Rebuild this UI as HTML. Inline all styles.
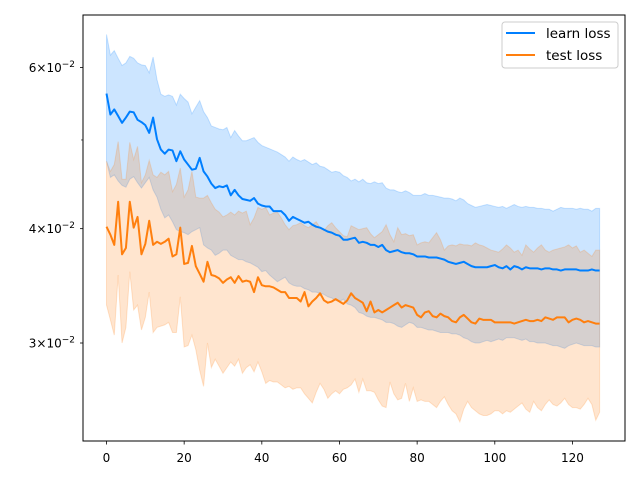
<!DOCTYPE html>
<html><head><meta charset="utf-8"><style>
html,body{margin:0;padding:0;background:#fff;}
svg{display:block;font-family:"DejaVu Sans","Liberation Sans",sans-serif;}
</style></head><body>
<svg id="chart" width="640" height="480" xmlns="http://www.w3.org/2000/svg">
<rect x="0" y="0" width="640" height="480" fill="#fff"/>
<g id="plot"></g>
<rect x="83" y="15" width="542" height="426" fill="none" stroke="#000" stroke-width="1"/>
<g id="xticks"></g>
<g id="yticks"></g>
<g>
<rect x="502" y="22" width="116" height="46" rx="3" fill="#fff" fill-opacity="0.8" stroke="#ccc"/>
<line x1="506" y1="33" x2="535" y2="33" stroke="#007fff" stroke-width="2"/>
<text x="546" y="38" font-size="13.5" fill="#000">learn loss</text>
<line x1="506" y1="55" x2="535" y2="55" stroke="#ff7f0e" stroke-width="2"/>
<text x="546" y="60" font-size="13.5" fill="#000">test loss</text>
</g>
</svg>
<script>
const learnMean=[.0562,.0533,.0540,.0531,.0522,.0529,.0537,.0536,.0526,.0523,.0519,.0509,.0529,.0501,.0488,.0483,.0488,.0487,.0474,.0486,.0476,.0470,.0464,.0465,.0478,.0462,.0456,.0448,.0443,.0445,.0444,.0446,.0435,.0441,.0435,.0431,.0430,.0429,.0432,.0426,.0424,.0423,.0423,.0418,.0418,.0418,.0414,.0408,.0412,.0410,.0408,.0406,.0407,.0404,.0402,.0401,.0399,.0397,.0396,.0394,.0393,.0389,.0389,.0390,.0391,.0386,.0387,.0386,.0384,.0384,.0382,.0384,.0379,.0377,.0378,.0379,.0377,.0376,.0376,.0375,.0373,.0373,.0373,.0372,.0372,.0372,.0371,.0370,.0368,.0367,.0366,.0367,.0368,.0366,.0364,.0363,.0363,.0363,.0363,.0364,.0365,.0363,.0362,.0364,.0361,.0364,.0363,.0361,.0363,.0362,.0362,.0362,.0361,.0362,.0362,.0361,.0361,.0360,.0361,.0361,.0361,.0361,.0360,.0360,.0360,.0361,.0360,.0360];
const learnUpper=[.0652,.0619,.0626,.0614,.0603,.0607,.0617,.0614,.0607,.0604,.0603,.0592,.0616,.0582,.0561,.0558,.0560,.0558,.0546,.0561,.0555,.0550,.0534,.0543,.0552,.0537,.0529,.0518,.0516,.0514,.0513,.0516,.0503,.0512,.0505,.0499,.0499,.0501,.0503,.0497,.0493,.0491,.0489,.0487,.0485,.0482,.0479,.0474,.0479,.0476,.0474,.0476,.0473,.0470,.0472,.0468,.0467,.0464,.0461,.0462,.0461,.0457,.0455,.0451,.0453,.0450,.0453,.0449,.0448,.0450,.0448,.0449,.0443,.0441,.0441,.0439,.0438,.0440,.0438,.0435,.0435,.0435,.0437,.0435,.0435,.0434,.0433,.0432,.0432,.0431,.0429,.0432,.0430,.0426,.0424,.0422,.0423,.0424,.0425,.0424,.0423,.0422,.0423,.0421,.0423,.0425,.0423,.0422,.0423,.0422,.0422,.0421,.0421,.0420,.0420,.0418,.0420,.0422,.0421,.0421,.0421,.0420,.0421,.0420,.0420,.0418,.0421,.0421];
const learnLower=[.0474,.0455,.0458,.0451,.0446,.0444,.0453,.0456,.0449,.0443,.0449,.0455,.0441,.0433,.0420,.0411,.0414,.0407,.0399,.0397,.0396,.0394,.0397,.0399,.0401,.0384,.0381,.0379,.0374,.0376,.0379,.0379,.0374,.0372,.0370,.0370,.0368,.0367,.0365,.0363,.0359,.0360,.0356,.0353,.0350,.0352,.0354,.0349,.0347,.0346,.0346,.0344,.0343,.0341,.0341,.0340,.0339,.0337,.0336,.0334,.0333,.0335,.0331,.0330,.0328,.0324,.0323,.0321,.0320,.0320,.0319,.0318,.0316,.0316,.0315,.0313,.0312,.0314,.0316,.0315,.0312,.0312,.0311,.0310,.0310,.0309,.0308,.0308,.0308,.0307,.0307,.0306,.0304,.0303,.0301,.0300,.0300,.0301,.0302,.0301,.0302,.0303,.0302,.0304,.0304,.0304,.0303,.0302,.0303,.0301,.0301,.0300,.0300,.0300,.0299,.0298,.0298,.0297,.0296,.0298,.0299,.0300,.0299,.0298,.0298,.0298,.0297,.0297];
const testMean=[.0402,.0394,.0384,.0428,.0375,.0381,.0428,.0401,.0412,.0375,.0385,.0408,.0384,.0387,.0385,.0387,.0390,.0373,.0375,.0401,.0366,.0367,.0383,.0364,.0357,.0350,.0368,.0356,.0355,.0353,.0349,.0352,.0354,.0349,.0355,.0350,.0351,.0350,.0341,.0354,.0347,.0346,.0346,.0345,.0343,.0341,.0341,.0336,.0336,.0336,.0333,.0341,.0329,.0333,.0336,.0340,.0334,.0332,.0333,.0335,.0333,.0331,.0334,.0340,.0336,.0334,.0332,.0325,.0333,.0324,.0326,.0324,.0326,.0328,.0330,.0332,.0328,.0330,.0329,.0328,.0322,.0320,.0324,.0325,.0321,.0320,.0323,.0321,.0320,.0317,.0316,.0320,.0322,.0319,.0316,.0315,.0319,.0318,.0318,.0318,.0316,.0316,.0316,.0316,.0316,.0315,.0316,.0317,.0318,.0317,.0317,.0318,.0317,.0320,.0319,.0318,.0320,.0320,.0320,.0316,.0318,.0319,.0318,.0316,.0317,.0316,.0315,.0315];
const testUpper=[.0474,.0462,.0470,.0498,.0453,.0453,.0497,.0476,.0492,.0449,.0458,.0475,.0458,.0455,.0461,.0458,.0462,.0439,.0447,.0466,.0433,.0441,.0462,.0433,.0432,.0432,.0435,.0427,.0420,.0417,.0412,.0414,.0417,.0414,.0418,.0416,.0418,.0404,.0411,.0422,.0420,.0422,.0414,.0416,.0417,.0411,.0404,.0399,.0403,.0404,.0406,.0403,.0401,.0404,.0407,.0401,.0398,.0403,.0406,.0401,.0397,.0393,.0392,.0403,.0401,.0399,.0400,.0401,.0395,.0391,.0394,.0397,.0404,.0394,.0387,.0401,.0394,.0395,.0393,.0394,.0384,.0386,.0387,.0386,.0391,.0396,.0389,.0379,.0383,.0384,.0383,.0385,.0384,.0384,.0383,.0386,.0384,.0383,.0381,.0379,.0378,.0377,.0380,.0384,.0381,.0377,.0379,.0374,.0384,.0380,.0377,.0381,.0384,.0379,.0377,.0379,.0380,.0381,.0382,.0384,.0381,.0383,.0377,.0379,.0376,.0373,.0379,.0379];
const testLower=[.0330,.0318,.0306,.0356,.0300,.0312,.0359,.0326,.0330,.0310,.0320,.0341,.0308,.0312,.0313,.0314,.0316,.0308,.0308,.0337,.0297,.0298,.0306,.0295,.0280,.0269,.0300,.0282,.0288,.0283,.0278,.0282,.0286,.0283,.0288,.0278,.0282,.0284,.0279,.0286,.0279,.0271,.0273,.0272,.0272,.0270,.0268,.0269,.0267,.0268,.0268,.0264,.0261,.0258,.0265,.0271,.0267,.0261,.0264,.0266,.0264,.0267,.0268,.0270,.0274,.0265,.0274,.0266,.0266,.0265,.0260,.0256,.0255,.0272,.0264,.0260,.0261,.0271,.0259,.0268,.0259,.0260,.0259,.0259,.0257,.0255,.0259,.0262,.0257,.0253,.0251,.0246,.0254,.0259,.0255,.0253,.0251,.0250,.0250,.0251,.0253,.0253,.0251,.0253,.0252,.0254,.0256,.0258,.0254,.0252,.0259,.0255,.0253,.0257,.0260,.0257,.0256,.0258,.0261,.0257,.0255,.0255,.0254,.0257,.0261,.0257,.0247,.0252];
const xTickValues=[0,20,40,60,80,100,120];
const yTickValues=[0.03,0.04,0.06];
const yTickMantissa=["3","4","6"];
const yMinorTickValues=[0.05];

const NS="http://www.w3.org/2000/svg";
function xs(i){return 106.5+i*3.883;}
function ys(v){return 67.5-915.2*Math.log10(v/0.06);}
function mk(tag,attrs,parent){const e=document.createElementNS(NS,tag);for(const k in attrs)e.setAttribute(k,attrs[k]);parent.appendChild(e);return e;}
const plot=document.getElementById('plot');
function band(up,lo,color,name){
  let d='';
  for(let i=0;i<up.length;i++)d+=(i?'L':'M')+xs(i).toFixed(2)+','+ys(up[i]).toFixed(2);
  for(let i=lo.length-1;i>=0;i--)d+='L'+xs(i).toFixed(2)+','+ys(lo[i]).toFixed(2);
  const p=mk('path',{d:d+'Z',fill:color,'fill-opacity':0.2,stroke:color,'stroke-opacity':0.2,'stroke-width':1},plot);
  
  
}
function line(vals,color,name){
  let d='';
  for(let i=0;i<vals.length;i++)d+=(i?'L':'M')+xs(i).toFixed(2)+','+ys(vals[i]).toFixed(2);
  const p=mk('path',{d:d,fill:'none',stroke:color,'stroke-width':2,'stroke-linejoin':'round'},plot);
  
  
}
band(learnUpper,learnLower,'#007fff','learn-loss-band');
band(testUpper,testLower,'#ff7f0e','test-loss-band');
line(learnMean,'#007fff','learn-loss-line');
line(testMean,'#ff7f0e','test-loss-line');

const xg=document.getElementById('xticks');
xTickValues.forEach(v=>{
  const x=xs(v);
  const t=mk('line',{x1:x,y1:441,x2:x,y2:444.5,stroke:'#000','stroke-width':0.8},xg);
  
  
  const l=mk('text',{x:x,y:462,'font-size':12,'text-anchor':'middle',fill:'#000'},xg);
  l.textContent=String(v);
  
  
});
const yg=document.getElementById('yticks');
yTickValues.forEach((v,k)=>{
  const y=ys(v);
  const t=mk('line',{x1:80,y1:y,x2:83,y2:y,stroke:'#000','stroke-width':0.8},yg);
  
  
  const l=mk('text',{x:75,y:y+4.5,'font-size':12,'text-anchor':'end',fill:'#000'},yg);
  
  
  const a=mk('tspan',{},l);a.textContent=yTickMantissa[k]+'\u00d710';
  const b=mk('tspan',{dy:-5,'font-size':9},l);b.textContent='\u22122';
});
yMinorTickValues.forEach(v=>{
  const y=ys(v);
  const t=mk('line',{x1:81,y1:y,x2:83,y2:y,stroke:'#000','stroke-width':0.6},yg);
  
  
});
</script>
</body></html>
